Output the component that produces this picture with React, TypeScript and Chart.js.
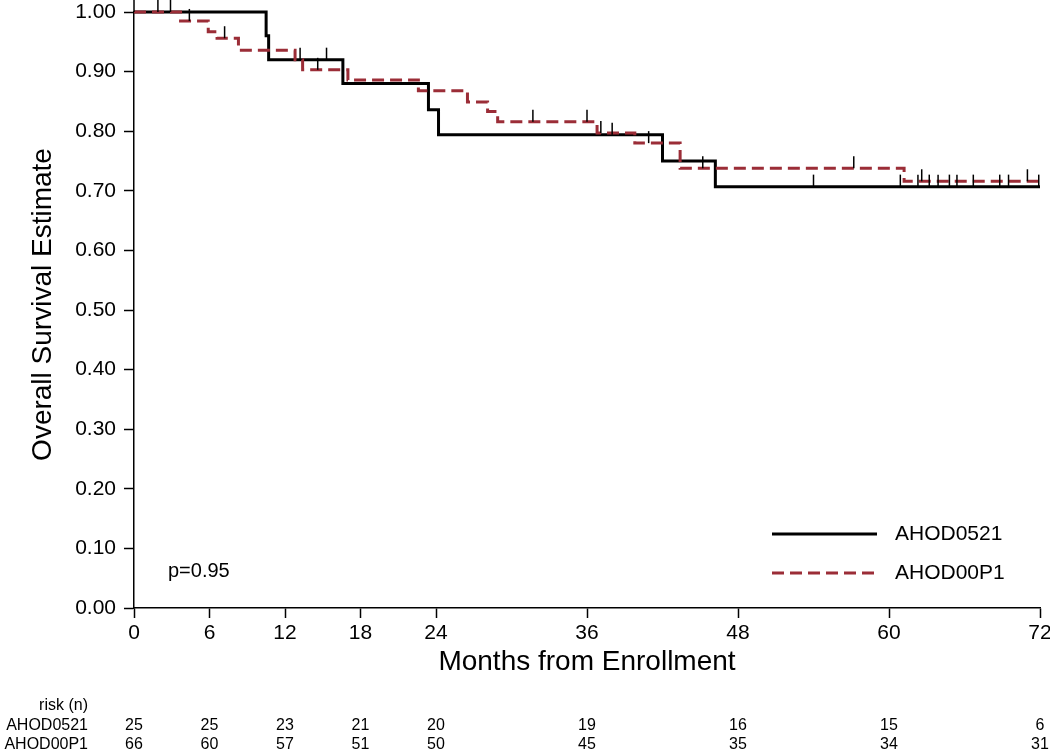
import React, { useEffect, useRef } from 'react';
import { Chart, registerables } from 'chart.js';

Chart.register(...registerables);

const FONT = "'Liberation Sans', Arial, Helvetica, sans-serif";

// Kaplan-Meier step points (time in months, survival estimate after the step)
const ahod0521Times = [0, 10.5, 10.7, 16.6, 23.4, 24.2, 42.0, 46.2, 72];
const ahod0521Surv = [1, 0.96, 0.92, 0.88, 0.836, 0.794, 0.75, 0.707, 0.707];
const ahod0521Censor = [15.3, 38.0, 54.0, 60.9, 62.3, 63.2, 63.9, 64.8, 65.4, 66.7, 68.8, 69.5, 71.9];

const ahod00p1Times = [0, 3.7, 5.9, 6.6, 8.3, 12.8, 13.4, 17.0, 22.6, 26.5, 28.1, 28.9, 36.8, 39.8, 43.4, 61.2, 72];
const ahod00p1Surv = [1, 0.985, 0.967, 0.956, 0.936, 0.92, 0.903, 0.886, 0.868, 0.849, 0.833, 0.816, 0.797, 0.78, 0.738, 0.716, 0.716];
const ahod00p1Censor = [1.9, 2.9, 4.4, 7.2, 13.2, 14.6, 31.7, 36.0, 37.1, 40.9, 45.2, 57.2, 62.6, 71.0];

const xTickValues = [0, 6, 12, 18, 24, 36, 48, 60, 72];
const riskTimes = [0, 6, 12, 18, 24, 36, 48, 60, 72];
const riskAHOD0521 = [25, 25, 23, 21, 20, 19, 16, 15, 6];
const riskAHOD00P1 = [66, 60, 57, 51, 50, 45, 35, 34, 31];

const seriesNames = ['AHOD0521', 'AHOD00P1'];
const pValueText = 'p=0.95';
const yTitle = 'Overall Survival Estimate';
const xTitle = 'Months from Enrollment';

function stepValue(times: number[], surv: number[], t: number): number {
  let s = surv[0];
  for (let i = 0; i < times.length; i++) {
    if (times[i] <= t) s = surv[i];
  }
  return s;
}

const censorSets = [
  { times: ahod0521Times, surv: ahod0521Surv, censor: ahod0521Censor },
  { times: ahod00p1Times, surv: ahod00p1Surv, censor: ahod00p1Censor },
];

const kmExtras = {
  id: 'kmExtras',
  afterDatasetsDraw(chart: any) {
    const { ctx, scales } = chart;
    const x = scales.x;
    const y = scales.y;
    ctx.save();
    ctx.strokeStyle = '#000';
    ctx.lineWidth = 1.5;
    censorSets.forEach((set) => {
      set.censor.forEach((t) => {
        const s = stepValue(set.times, set.surv, t);
        const px = x.getPixelForValue(t);
        const py = y.getPixelForValue(s);
        ctx.beginPath();
        ctx.moveTo(px, py);
        ctx.lineTo(px, py - 12);
        ctx.stroke();
      });
    });
    ctx.restore();
  },
  afterDraw(chart: any) {
    const { ctx, chartArea, scales } = chart;
    const x = scales.x;
    ctx.save();
    // extend the y axis line to the top edge
    ctx.strokeStyle = '#000';
    ctx.lineWidth = 1.5;
    ctx.beginPath();
    ctx.moveTo(chartArea.left, chartArea.top);
    ctx.lineTo(chartArea.left, 0);
    ctx.stroke();

    // y title
    ctx.fillStyle = '#000';
    ctx.font = `28px ${FONT}`;
    ctx.textAlign = 'center';
    ctx.textBaseline = 'middle';
    ctx.save();
    ctx.translate(chartArea.left - 91, (chartArea.top + chartArea.bottom) / 2 - 5.5);
    ctx.rotate(-Math.PI / 2);
    ctx.fillText(yTitle, 0, 0);
    ctx.restore();

    // legend
    const lx0 = chartArea.right - 268;
    const lx1 = chartArea.right - 163;
    const ly = [chartArea.bottom - 74, chartArea.bottom - 35];
    chart.data.datasets.forEach((ds: any, i: number) => {
      ctx.save();
      ctx.strokeStyle = ds.borderColor;
      ctx.lineWidth = ds.borderWidth;
      ctx.setLineDash(ds.borderDash || []);
      ctx.beginPath();
      ctx.moveTo(lx0, ly[i]);
      ctx.lineTo(lx1, ly[i]);
      ctx.stroke();
      ctx.restore();
      ctx.fillStyle = '#000';
      ctx.font = `21px ${FONT}`;
      ctx.textAlign = 'left';
      ctx.textBaseline = 'middle';
      ctx.fillText(ds.label, chartArea.right - 145, ly[i]);
    });

    // p-value
    ctx.font = `20px ${FONT}`;
    ctx.textAlign = 'left';
    ctx.textBaseline = 'middle';
    ctx.fillText(pValueText, chartArea.left + 34, chartArea.bottom - 37);

    // risk table
    ctx.font = `16px ${FONT}`;
    ctx.textBaseline = 'middle';
    ctx.textAlign = 'right';
    const labX = chartArea.left - 46;
    const rowY = [706, 726, 745];
    ctx.fillText('risk (n)', labX, rowY[0]);
    ctx.fillText(seriesNames[0], labX, rowY[1]);
    ctx.fillText(seriesNames[1], labX, rowY[2]);
    ctx.textAlign = 'center';
    riskTimes.forEach((t, i) => {
      const px = x.getPixelForValue(t);
      ctx.fillText(String(riskAHOD0521[i]), px, rowY[1]);
      ctx.fillText(String(riskAHOD00P1[i]), px, rowY[2]);
    });
    ctx.restore();
  },
};

export default function App() {
  const canvasRef = useRef<HTMLCanvasElement | null>(null);

  useEffect(() => {
    const canvas = canvasRef.current;
    if (!canvas) return;
    const toPoints = (times: number[], surv: number[]) => times.map((t, i) => ({ x: t, y: surv[i] }));
    const chart = new Chart(canvas, {
      type: 'line',
      data: {
        datasets: [
          {
            label: seriesNames[0],
            data: toPoints(ahod0521Times, ahod0521Surv),
            borderColor: '#000000',
            borderWidth: 3,
            stepped: true,
            pointRadius: 0,
            fill: false,
            clip: false,
            order: 1,
          },
          {
            label: seriesNames[1],
            data: toPoints(ahod00p1Times, ahod00p1Surv),
            borderColor: '#9B2D37',
            borderWidth: 3,
            borderDash: [12, 6],
            stepped: true,
            pointRadius: 0,
            fill: false,
            clip: false,
            order: 0,
          },
        ],
      },
      options: {
        responsive: false,
        animation: false,
        devicePixelRatio: 1,
        layout: { padding: { left: 0, right: 10, top: 12, bottom: 62 } },
        plugins: {
          legend: { display: false },
          tooltip: { enabled: false },
        },
        scales: {
          x: {
            type: 'linear',
            min: 0,
            max: 72,
            afterBuildTicks: (s: any) => {
              s.ticks = xTickValues.map((v) => ({ value: v }));
            },
            afterFit: (s: any) => {
              s.height = 82;
              s.paddingLeft = 0;
              s.paddingRight = 0;
            },
            ticks: {
              font: { family: FONT, size: 21 },
              color: '#000',
              padding: 3,
              maxRotation: 0,
              autoSkip: false,
            },
            grid: { drawOnChartArea: false, tickLength: 10, tickColor: '#000', tickWidth: 1.5 },
            border: { color: '#000', width: 1.5 },
            title: {
              display: true,
              text: xTitle,
              font: { family: FONT, size: 28 },
              color: '#000',
              padding: { top: 0, bottom: 11 },
            },
          },
          y: {
            type: 'linear',
            min: 0,
            max: 1,
            afterFit: (s: any) => {
              s.width = 134;
              s.paddingTop = 0;
              s.paddingBottom = 0;
            },
            ticks: {
              stepSize: 0.1,
              callback: (v: any) => Number(v).toFixed(2),
              font: { family: FONT, size: 21 },
              color: '#000',
              padding: 8,
            },
            grid: { drawOnChartArea: false, tickLength: 10, tickColor: '#000', tickWidth: 1.5 },
            border: { color: '#000', width: 1.5 },
          },
        },
      },
      plugins: [kmExtras],
    } as any);
    return () => chart.destroy();
  }, []);

  return (
    <div style={{ position: 'absolute', left: 0, top: 0, width: 1050, height: 752, background: '#fff' }}>
      <canvas ref={canvasRef} width={1050} height={752} style={{ display: 'block' }} />
    </div>
  );
}
